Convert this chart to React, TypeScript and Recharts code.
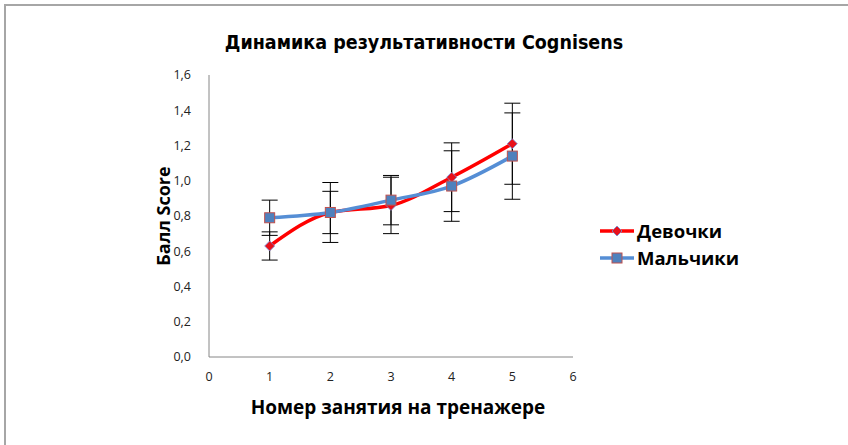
import { LineChart, Line, XAxis, YAxis, ErrorBar } from 'recharts';

const SESSIONS = [1, 2, 3, 4, 5];
const GIRLS = [0.63, 0.82, 0.86, 1.02, 1.21];
const GIRLS_ERR = [0.08, 0.12, 0.16, 0.195, 0.23];
const BOYS = [0.79, 0.82, 0.89, 0.97, 1.14];
const BOYS_ERR = [0.1, 0.17, 0.14, 0.2, 0.245];
const X_TICKS = [0, 1, 2, 3, 4, 5, 6];
const Y_TICKS = [0, 0.2, 0.4, 0.6, 0.8, 1.0, 1.2, 1.4, 1.6];

const RED = '#ff0000';
const BLUE = '#558ed5';
const FONT = '"Open Sans", sans-serif';

const data = SESSIONS.map((s, i) => ({
  session: s,
  girls: GIRLS[i],
  girlsErr: GIRLS_ERR[i],
  boys: BOYS[i],
  boysErr: BOYS_ERR[i],
}));

const Diamond = ({ cx, cy }: any) => {
  if (cx == null || cy == null) return null;
  const r = 5;
  return (
    <polygon
      points={`${cx},${cy - r} ${cx + r},${cy} ${cx},${cy + r} ${cx - r},${cy}`}
      fill="#e8101a"
      stroke="#6f8fd8"
      strokeWidth={0.8}
    />
  );
};

const Square = ({ cx, cy }: any) => {
  if (cx == null || cy == null) return null;
  const r = 5;
  return (
    <rect x={cx - r} y={cy - r} width={r * 2} height={r * 2} fill="#4f81bd" stroke="#c0504d" strokeWidth={1} />
  );
};

const LEGEND_ITEMS = [
  { name: 'Девочки', color: RED, Mark: Diamond },
  { name: 'Мальчики', color: BLUE, Mark: Square },
];

const fmt = (v: number) => v.toFixed(1).replace('.', ',');

export default function App() {
  return (
    <div style={{ position: 'absolute', left: 0, top: 0, width: 848, height: 445, background: '#fff' }}>
      <div
        style={{
          position: 'absolute', left: 4, top: 4, width: 844, height: 441,
          borderLeft: '2px solid #a6a6a6', borderTop: '2px solid #a6a6a6', boxSizing: 'border-box',
        }}
      />
      <LineChart
        width={848}
        height={445}
        data={data}
        margin={{ top: 75, right: 275, bottom: 58, left: 149 }}
        style={{ position: 'absolute', left: 0, top: 0 }}
      >
        <XAxis
          dataKey="session"
          type="number"
          domain={[0, 6]}
          ticks={X_TICKS}
          height={30}
          stroke="#868686"
          tickLine={false}
          tick={{ fill: '#222', fontSize: 12.5, fontFamily: FONT }}
          tickMargin={9}
        />
        <YAxis
          type="number"
          domain={[0, 1.6]}
          ticks={Y_TICKS}
          width={60}
          stroke="#868686"
          tickLine={false}
          tickFormatter={fmt}
          tick={{ fill: '#222', fontSize: 12.5, fontFamily: FONT }}
          tickMargin={12}
        />
        <Line
          dataKey="girls"
          name="Девочки"
          type="monotone"
          stroke={RED}
          strokeWidth={3.5}
          dot={<Diamond />}
          activeDot={false}
          isAnimationActive={false}
        >
          <ErrorBar dataKey="girlsErr" direction="y" width={8} stroke="#000" strokeWidth={1} />
        </Line>
        <Line
          dataKey="boys"
          name="Мальчики"
          type="monotone"
          stroke={BLUE}
          strokeWidth={3.5}
          dot={<Square />}
          activeDot={false}
          isAnimationActive={false}
        >
          <ErrorBar dataKey="boysErr" direction="y" width={8} stroke="#000" strokeWidth={1} />
        </Line>
      </LineChart>
      <div
        style={{
          position: 'absolute', left: 0, width: 848, top: 31, textAlign: 'center',
          fontFamily: '"DejaVu Sans Condensed", "Open Sans", sans-serif', fontWeight: 700, fontSize: 19.5, color: '#000',
        }}
      >
        Динамика результативности Cognisens
      </div>
      <div
        style={{
          position: 'absolute', left: 0, width: 796, top: 394, textAlign: 'center',
          fontFamily: FONT, fontWeight: 700, fontSize: 19, color: '#000',
        }}
      >
        Номер занятия на тренажере
      </div>
      <div
        style={{
          position: 'absolute', left: 163, top: 216, transform: 'translate(-50%, -50%) rotate(-90deg)',
          fontFamily: FONT, fontWeight: 700, fontSize: 18, color: '#000', whiteSpace: 'nowrap',
        }}
      >
        Балл Score
      </div>
      <div
        style={{
          position: 'absolute', left: 600, top: 217,
          fontFamily: FONT, fontWeight: 700, fontSize: 18.5, color: '#000',
        }}
      >
        {LEGEND_ITEMS.map(({ name, color, Mark }) => (
          <div key={name} style={{ display: 'flex', alignItems: 'center', height: 27 }}>
            <svg width={34} height={14} style={{ marginRight: 3 }}>
              <line x1={0} y1={7} x2={34} y2={7} stroke={color} strokeWidth={3.5} />
              <Mark cx={17} cy={7} />
            </svg>
            <span>{name}</span>
          </div>
        ))}
      </div>
    </div>
  );
}
